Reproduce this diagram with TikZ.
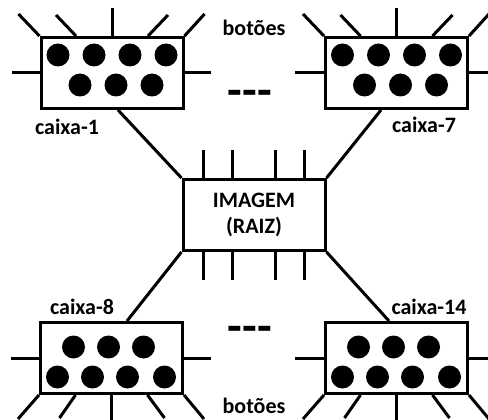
\documentclass[tikz,border=0pt]{standalone}
\usepackage{fontspec}
\setmainfont{Carlito}
\begin{document}
\begin{tikzpicture}[x=1pt,y=-1pt, line width=3pt,
  box/.style={draw, minimum width=142pt, minimum height=71pt, inner sep=0pt},
  dot/.style={circle, fill, draw=none, minimum size=23pt, inner sep=0pt},
  lbl/.style={font=\fontsize{22}{26}\selectfont\bfseries, inner sep=0pt},
  dashes/.style={font=\fontsize{48}{48}\selectfont\bfseries, inner sep=0pt}]
\useasboundingbox (0,0) rectangle (488,420);

% boxes
\node[box] (b1) at (112,73) {};
\node[box] (b7) at (396.5,73) {};
\node[box] (b8) at (111.5,358) {};
\node[box] (b14) at (396.5,358) {};
\node[box, align=center, lbl] (c) at (254,215) {IMAGEM\\(RAIZ)};

% dots (top boxes)
\foreach \b in {b1,b7}{
  \foreach \dx [count=\i] in {-54,-18,18,54}
    \node[dot] (\b r1\i) at ([shift={(\dx pt,18pt)}]\b.center) {};
  \foreach \dx [count=\i] in {-32,4,40}
    \node[dot] (\b r2\i) at ([shift={(\dx pt,-12pt)}]\b.center) {};
}
% dots (bottom boxes)
\foreach \b in {b8,b14}{
  \foreach \dx [count=\i] in {-38,-3,32}
    \node[dot] (\b r1\i) at ([shift={(\dx pt,11pt)}]\b.center) {};
  \foreach \dx [count=\i] in {-54,-19,16,53}
    \node[dot] (\b r2\i) at ([shift={(\dx pt,-19pt)}]\b.center) {};
}

% stubs top boxes
\foreach \b in {b1,b7}{
  \draw (\b.north west) -- ++(-21,-22);
  \draw ([xshift=-36pt]\b.north) -- ++(-20,-21);
  \draw (\b.north) -- ++(0,-28);
  \draw ([xshift=36pt]\b.north) -- ++(20,-21);
  \draw (\b.north east) -- ++(20,-22);
}
\draw (b1.west) -- ++(-28,0);
\draw (b1.east) -- ++(26,0);
\draw (b7.west) -- ++(-29,0);
\draw (b7.east) -- ++(26,0);

% stubs bottom boxes
\foreach \b in {b8,b14}{
  \draw (\b.south west) -- ++(-21,24);
  \draw ([xshift=-36pt]\b.south) -- ++(-16,23);
  \draw (\b.south) -- ++(0,28);
  \draw ([xshift=36pt]\b.south) -- ++(17,23);
  \draw (\b.south east) -- ++(20,24);
}
\draw (b8.west) -- ++(-28,0);
\draw (b8.east) -- ++(27,0);
\draw (b14.west) -- ++(-29,0);
\draw (b14.east) -- ++(26,0);

% stubs centre box
\foreach \dx in {-51,-22,21,50}{
  \draw ([xshift=\dx pt]c.north) -- ++(0,-28);
  \draw ([xshift=\dx pt]c.south) -- ++(0,28);
}

% connectors
\draw ([xshift=6pt]b1.south) -- (c.north west);
\draw ([xshift=-15.5pt]b7.south) -- (c.north east);
\draw ([xshift=15.5pt]b8.north) -- (c.south west);
\draw ([xshift=-7.5pt]b14.north) -- (c.south east);

% labels
\node[lbl] (l1) at (67,127) {caixa-1};
\node[lbl] (l7) at (424,125) {caixa-7};
\node[lbl] (l8) at (82,307) {caixa-8};
\node[lbl] (l14) at (429,307) {caixa-14};
\node[lbl] (bt1) at (254,28) {botões};
\node[lbl] (bt2) at (254,406) {botões};
\node[dashes] (d1) at (250,98) {-{}-{}-};
\node[dashes] (d2) at (250,334) {-{}-{}-};
\end{tikzpicture}
\end{document}
